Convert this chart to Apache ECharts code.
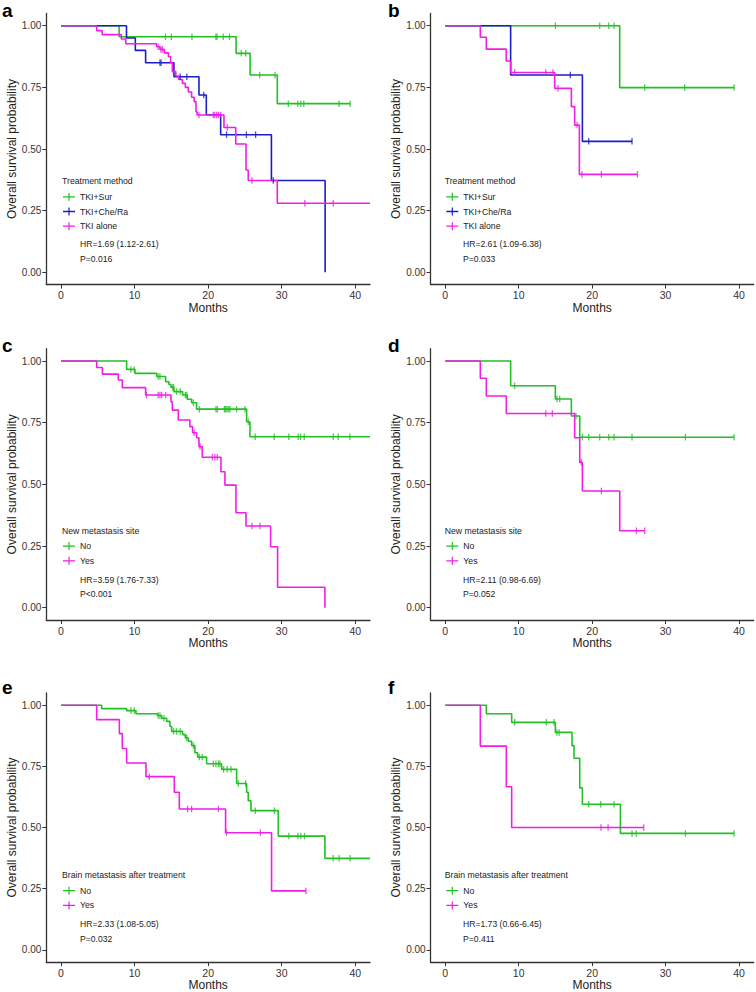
<!DOCTYPE html>
<html>
<head>
<meta charset="utf-8">
<script src="https://cdn.jsdelivr.net/npm/echarts@6.0.0/dist/echarts.min.js"></script>
<style>
html,body{margin:0;padding:0;background:#fff;}
#chart{width:756px;height:992px;}
</style>
</head>
<body>
<div id="chart"></div>
<script>
// ---------- tick labels ----------
const xTicks = [0, 10, 20, 30, 40];
const yTicks = [0, 0.25, 0.5, 0.75, 1];

// ---------- panel a : Treatment method ----------
const aSurSteps = [[0,1],[7.9,0.955],[23.8,0.888],[25.7,0.80],[29.4,0.684],[39.3,0.684]];
const aSurCensor = [14.2,15.0,17.8,21.05,21.2,22.05,22.9,24.5,25.1,27.0,29.1,30.9,32.2,32.6,33.0,37.8,39.3];
const aCheSteps = [[0,1],[8.9,0.95],[10.1,0.90],[11.5,0.85],[15.35,0.793],[18.75,0.719],[19.75,0.639],[21.7,0.558],[28.6,0.372],[35.9,0]];
const aCheCensor = [13.45,13.6,16.2,17.1,19.4,22.5,25.2,26.45,28.85];
const aAloneSteps = [[0,1],[4.85,0.98],[5.6,0.964],[8.2,0.946],[8.8,0.927],[13.0,0.915],[13.45,0.904],[14.05,0.89],[14.6,0.874],[14.9,0.851],[15.13,0.814],[15.6,0.796],[16.0,0.782],[16.5,0.766],[16.9,0.75],[17.3,0.731],[17.75,0.71],[18.1,0.692],[18.35,0.651],[18.5,0.638],[22.15,0.587],[23.75,0.52],[25.15,0.415],[25.45,0.372],[29.4,0.28],[42,0.28]];
const aAloneCensor = [13.2,13.6,13.8,18.75,20.7,20.9,21.15,21.4,21.7,22.6,25.95,33.15,37.0];

// ---------- panel b : Treatment method ----------
const bSurSteps = [[0,1],[23.75,0.749],[39.33,0.749]];
const bSurCensor = [15.0,21.03,22.26,22.98,27.16,32.6,39.33];
const bCheSteps = [[0,1],[8.9,0.8],[18.67,0.531],[25.43,0.531]];
const bCheCensor = [17.03,19.53,25.43];
const bAloneSteps = [[0,1],[4.77,0.953],[5.59,0.905],[8.3,0.857],[8.9,0.81],[14.9,0.746],[17.17,0.672],[17.62,0.597],[18.26,0.397],[26.16,0.397]];
const bAloneCensor = [9.45,13.68,14.67,15.35,17.94,18.62,21.26,26.16];

// ---------- panel c : New metastasis site ----------
const cNoSteps = [[0,1],[8.92,0.966],[10.05,0.95],[13.0,0.937],[14.22,0.916],[14.67,0.905],[14.95,0.893],[15.35,0.876],[16.53,0.862],[17.16,0.845],[17.75,0.831],[18.43,0.805],[25.23,0.754],[25.68,0.693],[42,0.693]];
const cNoCensor = [9.5,9.96,13.2,13.45,15.2,15.3,15.7,16.2,16.9,17.1,17.98,18.8,21.06,21.24,22.2,22.37,22.55,22.78,22.96,23.87,25.0,25.45,26.4,28.98,30.97,32.25,32.56,33.06,37.0,37.68,39.27];
const cYesSteps = [[0,1],[4.85,0.974],[5.62,0.947],[7.79,0.923],[8.33,0.892],[11.5,0.862],[14.95,0.835],[15.13,0.801],[15.94,0.761],[17.52,0.734],[17.89,0.709],[18.43,0.689],[18.75,0.653],[19.2,0.61],[21.74,0.551],[22.28,0.497],[23.78,0.385],[25.14,0.331],[28.49,0.247],[29.44,0.083],[35.87,0]];
const cYesCensor = [11.6,13.2,13.45,13.68,14.22,18.1,18.9,20.57,20.92,21.24,25.95,27.04];

// ---------- panel d : New metastasis site ----------
const dNoSteps = [[0,1],[8.9,0.9],[14.99,0.846],[17.17,0.777],[18.31,0.691],[39.33,0.691]];
const dNoCensor = [9.45,15.22,15.58,17.8,18.67,19.53,21.03,22.26,22.98,25.43,32.7,39.33];
const dYesSteps = [[0,1],[4.77,0.93],[5.59,0.858],[8.31,0.787],[17.62,0.689],[18.31,0.589],[18.67,0.473],[23.76,0.312],[27.16,0.312]];
const dYesCensor = [13.68,14.58,18.53,21.26,26.03,27.16];

// ---------- panel e : Brain metastasis after treatment ----------
const eNoSteps = [[0,1],[5.53,0.986],[8.92,0.978],[10.19,0.965],[13.09,0.958],[13.68,0.947],[14.36,0.934],[14.81,0.913],[15.04,0.893],[16.53,0.88],[16.9,0.866],[17.3,0.853],[17.75,0.835],[18.2,0.806],[18.57,0.788],[19.79,0.761],[21.83,0.738],[23.87,0.68],[25.23,0.644],[25.45,0.61],[25.82,0.569],[29.53,0.465],[35.87,0.374],[42,0.374]];
const eNoCensor = [9.5,9.96,13.2,13.45,14.0,15.3,15.7,16.2,17.1,18.0,18.8,19.2,20.7,21.06,21.4,21.6,22.1,22.6,23.1,24.1,25.1,26.4,29.0,30.97,32.2,32.6,33.1,37.0,37.8,39.3];
const eYesSteps = [[0,1],[4.85,0.941],[7.93,0.884],[8.33,0.823],[8.92,0.764],[11.55,0.708],[15.4,0.644],[16.08,0.576],[22.37,0.479],[28.62,0.241],[33.29,0.241]];
const eYesCensor = [12.0,17.2,17.75,21.4,22.5,27.1,33.29];

// ---------- panel f : Brain metastasis after treatment ----------
const fNoSteps = [[0,1],[5.59,0.965],[9.04,0.93],[14.99,0.889],[17.26,0.835],[17.53,0.783],[18.31,0.662],[18.67,0.595],[23.85,0.476],[39.33,0.476]];
const fNoCensor = [9.45,13.76,14.81,15.2,15.5,19.53,21.17,22.98,25.43,26.0,32.7,39.33];
const fYesSteps = [[0,1],[4.77,0.833],[8.31,0.667],[9.04,0.5],[27.03,0.5]];
const fYesCensor = [21.21,22.17,27.03];

// ---------- texts ----------
const panelLetters = ['a','b','c','d','e','f'];
const legendTitles = ['Treatment method','Treatment method','New metastasis site','New metastasis site','Brain metastasis after treatment','Brain metastasis after treatment'];
const hrTexts = ['HR=1.69 (1.12-2.61)','HR=2.61 (1.09-6.38)','HR=3.59 (1.76-7.33)','HR=2.11 (0.98-6.69)','HR=2.33 (1.08-5.05)','HR=1.73 (0.66-6.45)'];
const pTexts = ['P=0.016','P=0.033','P<0.001','P=0.052','P=0.032','P=0.411'];
const treatNames = ['TKI+Sur','TKI+Che/Ra','TKI alone'];
const ynNames = ['No','Yes'];

// ---------- styling / layout ----------
const GREEN = '#22c022', BLUE = '#1c1cc8', MAGENTA = '#f01ee6';
const FONT = '"Liberation Sans", Arial, Helvetica, sans-serif';

const panels = [
  {groups:[[treatNames[0],aSurSteps,aSurCensor,GREEN],[treatNames[1],aCheSteps,aCheCensor,BLUE],[treatNames[2],aAloneSteps,aAloneCensor,MAGENTA]], names:treatNames},
  {groups:[[treatNames[0],bSurSteps,bSurCensor,GREEN],[treatNames[1],bCheSteps,bCheCensor,BLUE],[treatNames[2],bAloneSteps,bAloneCensor,MAGENTA]], names:treatNames},
  {groups:[[ynNames[0],cNoSteps,cNoCensor,GREEN],[ynNames[1],cYesSteps,cYesCensor,MAGENTA]], names:ynNames},
  {groups:[[ynNames[0],dNoSteps,dNoCensor,GREEN],[ynNames[1],dYesSteps,dYesCensor,MAGENTA]], names:ynNames},
  {groups:[[ynNames[0],eNoSteps,eNoCensor,GREEN],[ynNames[1],eYesSteps,eYesCensor,MAGENTA]], names:ynNames},
  {groups:[[ynNames[0],fNoSteps,fNoCensor,GREEN],[ynNames[1],fYesSteps,fYesCensor,MAGENTA]], names:ynNames}
];

const colLeft = [46.3, 430.6], colWidth = [323.7, 323.1];
const rowTop = [13.4, 348.7, 693.0], rowHeight = [271.2, 271.3, 271.6];
const colTextX = [62, 444.7], colIconX = [63, 446.3], colLabelX = [80, 463];
const rowLegendTitleY = [180.7, 530.5, 875], rowLegendTopY = [192.3, 541.6, 886.2];
const rowHrY = [244, 580, 924.2], rowPY = [258.7, 594.2, 938.6];
const letterX = [2, 388], letterY = [10.8, 345.9, 687.6];

function survAt(steps, t) {
  let s = steps[0][1];
  for (const p of steps) { if (p[0] <= t) s = p[1]; else break; }
  return s;
}

const grids = [], xAxes = [], yAxes = [], series = [], legends = [], graphics = [];
const plusIcon = 'path://M0,3.35 L12,3.35 L12,4.65 L0,4.65 Z M5.4,0 L6.6,0 L6.6,8 L5.4,8 Z';

panels.forEach((p, i) => {
  const col = i % 2, row = Math.floor(i / 2);
  grids.push({left: colLeft[col], top: rowTop[row], width: colWidth[col], height: rowHeight[row], containLabel: false});
  xAxes.push({
    type: 'value', gridIndex: i, min: -2, max: 42,
    name: 'Months', nameLocation: 'middle', nameGap: 14.5,
    nameTextStyle: {fontSize: 12, color: '#222', fontFamily: FONT, verticalAlign: 'top'},
    axisLine: {show: true, onZero: false, lineStyle: {color: '#333', width: 1.3}},
    axisTick: {show: true, length: 4, customValues: xTicks, lineStyle: {color: '#333', width: 1}},
    axisLabel: {customValues: xTicks, fontSize: 10.5, color: '#333', margin: 5, fontFamily: FONT},
    splitLine: {show: false}
  });
  yAxes.push({
    type: 'value', gridIndex: i, min: -0.05, max: 1.05,
    name: 'Overall survival probability', nameLocation: 'middle', nameGap: 27.5,
    nameTextStyle: {fontSize: 12, color: '#222', fontFamily: FONT},
    axisLine: {show: true, onZero: false, lineStyle: {color: '#333', width: 1.3}},
    axisTick: {show: true, length: 4, customValues: yTicks, lineStyle: {color: '#333', width: 1}},
    axisLabel: {customValues: yTicks, fontSize: 10, color: '#333', margin: 5, fontFamily: FONT,
                formatter: v => Number(v).toFixed(2)},
    splitLine: {show: false}
  });
  p.groups.forEach(g => {
    const [name, steps, cens, color] = g;
    series.push({
      name: name, type: 'line', xAxisIndex: i, yAxisIndex: i, step: 'end',
      data: steps, symbol: 'none', showSymbol: false, silent: true, animation: false,
      lineStyle: {color: color, width: 1.6}, itemStyle: {color: color}, z: 3
    });
    series.push({
      name: name + ' (censored)', type: 'scatter', xAxisIndex: i, yAxisIndex: i,
      data: cens.map(t => [t, survAt(steps, t)]),
      symbol: 'rect', symbolSize: [1.3, 6.5], silent: true, animation: false,
      itemStyle: {color: color}, z: 4
    });
  });
  legends.push({
    orient: 'vertical', left: colIconX[col], top: rowLegendTopY[row], padding: 0,
    itemWidth: 12, itemHeight: 8, itemGap: 5.7, icon: plusIcon, selectedMode: false,
    data: p.names,
    textStyle: {fontSize: 8.7, color: '#222', fontFamily: FONT, lineHeight: 9}
  });
  graphics.push({type: 'text', x: letterX[col], y: letterY[row],
    style: {text: panelLetters[i], fill: '#000', font: 'bold 19px ' + FONT, align: 'left', verticalAlign: 'middle', textAlign: 'left', textVerticalAlign: 'middle'}});
  graphics.push({type: 'text', x: colTextX[col], y: rowLegendTitleY[row],
    style: {text: legendTitles[i], fill: '#222', font: '8.7px ' + FONT, align: 'left', verticalAlign: 'middle', textAlign: 'left', textVerticalAlign: 'middle'}});
  graphics.push({type: 'text', x: colLabelX[col], y: rowHrY[row],
    style: {text: hrTexts[i], fill: '#222', font: '8.6px ' + FONT, align: 'left', verticalAlign: 'middle', textAlign: 'left', textVerticalAlign: 'middle'}});
  graphics.push({type: 'text', x: colLabelX[col], y: rowPY[row],
    style: {text: pTexts[i], fill: '#222', font: '8.6px ' + FONT, align: 'left', verticalAlign: 'middle', textAlign: 'left', textVerticalAlign: 'middle'}});
});

const chart = echarts.init(document.getElementById('chart'), null, {renderer: 'svg', width: 756, height: 992});
chart.setOption({
  animation: false,
  backgroundColor: '#fff',
  textStyle: {fontFamily: FONT},
  grid: grids, xAxis: xAxes, yAxis: yAxes, series: series, legend: legends,
  graphic: {elements: graphics}
});
</script>
</body>
</html>
